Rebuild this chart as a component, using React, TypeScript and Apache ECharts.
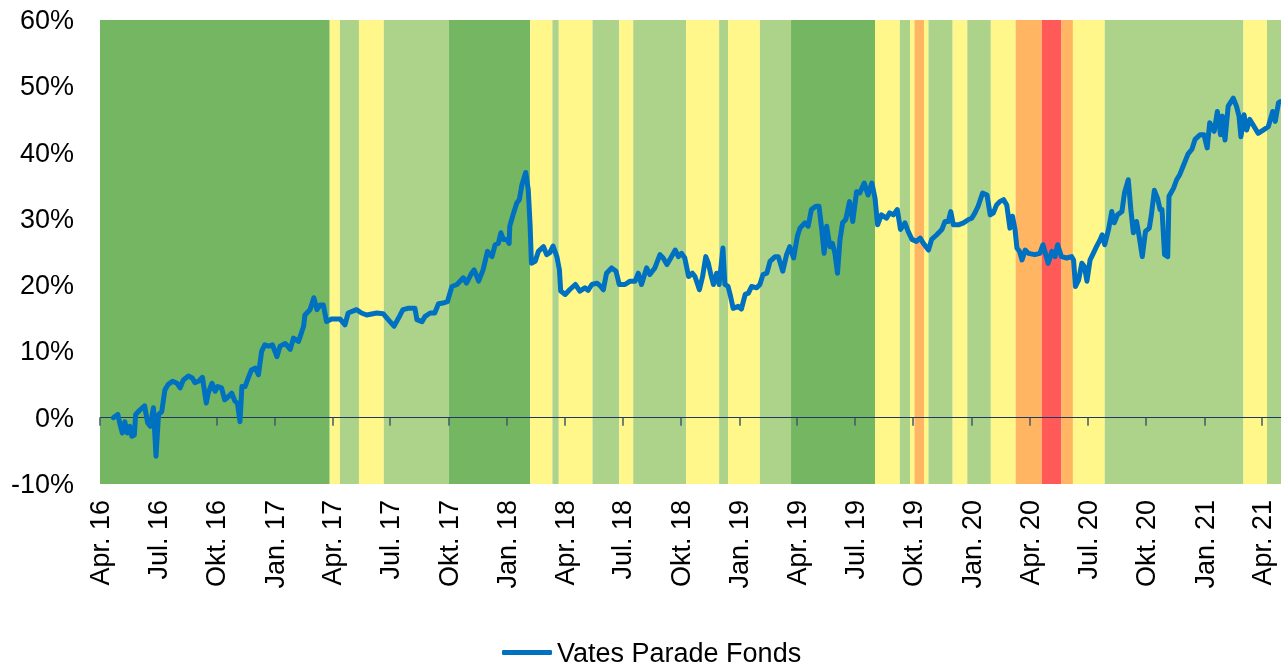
import { useEffect, useRef } from 'react';
import * as echarts from 'echarts';

const AXIS_START = '2016-04-01';
const AXIS_END = '2021-05-01';
const SERIES_NAME = 'Vates Parade Fonds';
const Y_MIN = -10;
const Y_MAX = 60;
const Y_STEP = 10;
const quarterMonthNames: Record<string, string> = { '01': 'Jan.', '04': 'Apr.', '07': 'Jul.', '10': 'Okt.' };

const fundDates = [
  '2016-04-22','2016-04-29','2016-05-02','2016-05-06','2016-05-10','2016-05-14','2016-05-18','2016-05-21','2016-05-25','2016-05-27',
  '2016-06-03','2016-06-10','2016-06-15','2016-06-19','2016-06-24','2016-06-28','2016-07-02','2016-07-07','2016-07-12','2016-07-17',
  '2016-07-24','2016-07-31','2016-08-05','2016-08-10','2016-08-18','2016-08-24','2016-08-28','2016-09-03','2016-09-09','2016-09-15',
  '2016-09-18','2016-09-24','2016-09-29','2016-10-03','2016-10-09','2016-10-14','2016-10-20','2016-10-25','2016-10-30','2016-11-03',
  '2016-11-07','2016-11-10','2016-11-15','2016-11-20','2016-11-25','2016-12-01','2016-12-06','2016-12-11','2016-12-16','2016-12-22',
  '2016-12-28','2017-01-04','2017-01-09','2017-01-17','2017-01-25','2017-01-30','2017-02-07','2017-02-15','2017-02-17','2017-02-25',
  '2017-03-03','2017-03-08','2017-03-13','2017-03-18','2017-03-23','2017-03-31','2017-04-13','2017-04-21','2017-04-26','2017-05-09',
  '2017-05-17','2017-05-25','2017-06-10','2017-06-20','2017-06-28','2017-07-07','2017-07-14','2017-07-21','2017-07-29','2017-08-09',
  '2017-08-12','2017-08-20','2017-08-25','2017-09-02','2017-09-09','2017-09-15','2017-09-22','2017-09-29','2017-10-06','2017-10-14',
  '2017-10-24','2017-10-29','2017-11-06','2017-11-10','2017-11-17','2017-11-24','2017-12-01','2017-12-08','2017-12-13','2017-12-18',
  '2017-12-22','2017-12-26','2017-12-31','2018-01-04','2018-01-05','2018-01-11','2018-01-16','2018-01-20','2018-01-24','2018-01-30',
  '2018-02-03','2018-02-06','2018-02-08','2018-02-14','2018-02-19','2018-02-27','2018-03-04','2018-03-09','2018-03-14','2018-03-20',
  '2018-03-24','2018-03-26','2018-04-02','2018-04-09','2018-04-18','2018-04-25','2018-05-03','2018-05-08','2018-05-14','2018-05-22',
  '2018-05-28','2018-06-01','2018-06-06','2018-06-14','2018-06-21','2018-06-26','2018-07-05','2018-07-13','2018-07-21','2018-07-26',
  '2018-07-31','2018-08-08','2018-08-13','2018-08-21','2018-08-29','2018-09-03','2018-09-09','2018-09-15','2018-09-22','2018-09-27',
  '2018-10-02','2018-10-07','2018-10-13','2018-10-19','2018-10-23','2018-10-30','2018-11-04','2018-11-09','2018-11-13','2018-11-17',
  '2018-11-21','2018-11-26','2018-11-30','2018-12-06','2018-12-09','2018-12-14','2018-12-18','2018-12-22','2018-12-30','2019-01-04',
  '2019-01-10','2019-01-15','2019-01-20','2019-01-28','2019-02-02','2019-02-07','2019-02-13','2019-02-18','2019-02-26','2019-03-03',
  '2019-03-10','2019-03-16','2019-03-21','2019-03-27','2019-04-02','2019-04-06','2019-04-14','2019-04-19','2019-04-24','2019-05-01',
  '2019-05-06','2019-05-10','2019-05-14','2019-05-18','2019-05-23','2019-05-27','2019-05-31','2019-06-04','2019-06-08','2019-06-12',
  '2019-06-17','2019-06-23','2019-06-28','2019-07-04','2019-07-09','2019-07-16','2019-07-22','2019-07-28','2019-08-02','2019-08-06',
  '2019-08-12','2019-08-20','2019-08-25','2019-08-31','2019-09-06','2019-09-11','2019-09-18','2019-09-23','2019-09-29','2019-10-06',
  '2019-10-12','2019-10-17','2019-10-25','2019-10-30','2019-11-07','2019-11-15','2019-11-20','2019-11-25','2019-11-29','2019-12-03',
  '2019-12-11','2019-12-19','2019-12-27','2020-01-01','2020-01-06','2020-01-11','2020-01-18','2020-01-25','2020-01-30','2020-02-04',
  '2020-02-09','2020-02-14','2020-02-20','2020-02-25','2020-03-01','2020-03-05','2020-03-09','2020-03-12','2020-03-16','2020-03-20',
  '2020-03-25','2020-03-30','2020-04-09','2020-04-17','2020-04-22','2020-04-30','2020-05-06','2020-05-11','2020-05-15','2020-05-21',
  '2020-05-29','2020-06-06','2020-06-09','2020-06-12','2020-06-17','2020-06-22','2020-06-26','2020-06-30','2020-07-05','2020-07-10',
  '2020-07-15','2020-07-21','2020-07-24','2020-07-28','2020-08-03','2020-08-08','2020-08-12','2020-08-17','2020-08-24','2020-08-28',
  '2020-09-03','2020-09-07','2020-09-11','2020-09-16','2020-09-20','2020-09-25','2020-09-30','2020-10-06','2020-10-09','2020-10-14',
  '2020-10-19','2020-10-23','2020-10-26','2020-10-30','2020-11-04','2020-11-06','2020-11-13','2020-11-18','2020-11-23','2020-11-28',
  '2020-12-06','2020-12-12','2020-12-17','2020-12-25','2020-12-31','2021-01-05','2021-01-09','2021-01-16','2021-01-21','2021-01-26',
  '2021-01-29','2021-02-02','2021-02-07','2021-02-15','2021-02-20','2021-02-24','2021-02-27','2021-03-04','2021-03-08','2021-03-13',
  '2021-03-18','2021-03-26','2021-04-03','2021-04-11','2021-04-18','2021-04-22','2021-04-27','2021-04-30',
];

const fundValues = [
  0.0, 0.5, -0.8, -2.3, -0.6, -2.3, -1.3, -2.8, -2.6, 0.5,
  1.2, 1.8, -0.8, -1.3, 1.5, -5.8, 0.5, 0.9, 4.2, 5.0,
  5.5, 5.2, 4.5, 5.7, 6.3, 6.0, 5.3, 5.5, 6.1, 2.2,
  3.7, 5.2, 4.0, 4.7, 4.5, 2.7, 3.2, 3.7, 2.5, 2.2,
  -0.6, 4.7, 4.7, 6.0, 7.2, 7.5, 6.5, 10.0, 11.0, 10.8,
  11.0, 9.2, 10.8, 11.2, 10.3, 12.0, 11.5, 13.8, 15.5, 16.3,
  18.1, 16.3, 17.0, 17.0, 14.5, 14.9, 14.9, 14.0, 15.8, 16.3,
  15.8, 15.5, 15.8, 15.7, 14.8, 13.8, 15.0, 16.3, 16.5, 16.5,
  14.8, 14.5, 15.3, 15.8, 15.8, 17.2, 17.3, 17.5, 19.8, 20.1,
  21.1, 20.3, 21.8, 22.3, 20.6, 22.3, 25.1, 24.3, 26.1, 26.3,
  27.9, 26.9, 26.9, 26.3, 28.9, 30.9, 32.4, 32.9, 35.1, 37.0,
  34.4, 28.9, 23.3, 23.6, 25.1, 25.8, 24.6, 24.9, 25.9, 24.3,
  22.3, 19.1, 18.6, 19.3, 20.1, 19.1, 19.6, 19.2, 20.1, 20.3,
  19.8, 19.3, 21.8, 22.6, 22.1, 20.1, 20.1, 20.6, 20.6, 21.8,
  20.1, 22.6, 21.6, 22.6, 24.6, 24.1, 23.1, 24.1, 25.3, 24.3,
  24.8, 24.1, 21.3, 21.8, 21.3, 19.3, 21.3, 24.3, 23.3, 21.6,
  20.1, 21.8, 20.1, 25.6, 20.1, 19.8, 18.3, 16.5, 16.8, 16.4,
  18.6, 18.8, 19.8, 19.6, 20.1, 21.6, 21.8, 23.6, 24.3, 24.3,
  22.1, 24.6, 25.8, 24.1, 27.4, 28.6, 29.4, 28.9, 31.4, 31.9,
  31.9, 28.6, 24.8, 28.9, 25.8, 26.3, 24.8, 21.8, 26.9, 29.4,
  29.9, 32.6, 29.6, 34.1, 33.9, 35.4, 33.6, 35.4, 33.1, 29.1,
  30.6, 30.1, 30.9, 30.6, 31.4, 28.4, 29.4, 28.1, 26.9, 26.6,
  27.1, 26.3, 25.3, 26.9, 27.6, 28.4, 29.6, 29.6, 31.1, 29.1,
  29.1, 29.4, 29.9, 30.1, 30.9, 31.9, 33.9, 33.6, 30.6, 30.9,
  32.1, 32.6, 32.9, 32.1, 28.6, 30.4, 28.4, 25.6, 25.1, 23.8,
  25.3, 24.8, 24.6, 24.8, 26.1, 23.3, 25.1, 24.3, 26.1, 24.3,
  24.1, 24.3, 23.8, 19.8, 20.8, 23.3, 22.8, 20.6, 23.8, 24.8,
  25.8, 26.9, 27.6, 26.1, 28.4, 31.1, 29.4, 30.6, 31.1, 33.9,
  35.9, 31.4, 27.9, 29.6, 27.4, 24.3, 28.1, 28.6, 30.4, 34.3,
  33.1, 31.4, 31.4, 24.6, 24.3, 33.4, 34.6, 35.9, 36.7, 37.9,
  39.8, 40.5, 42.0, 42.7, 42.7, 40.7, 44.5, 43.2, 46.2, 42.7,
  45.5, 41.9, 47.0, 48.2, 47.0, 45.5, 42.4, 45.7, 43.4, 45.0,
  44.2, 42.9, 43.4, 43.9, 46.2, 44.7, 47.5, 47.7,
];

// background phases: start date of each phase and its level
const bandStarts = [
  '2016-04-01','2017-03-28','2017-04-13','2017-05-13','2017-06-21','2017-10-01','2018-02-06','2018-03-13','2018-03-23','2018-05-15',
  '2018-06-26','2018-07-18','2018-10-09','2018-11-30','2018-12-14','2019-02-02','2019-03-23','2019-08-02','2019-09-10','2019-09-26',
  '2019-10-03','2019-10-18','2019-10-25','2019-12-02','2019-12-25','2020-01-31','2020-03-10','2020-04-20','2020-05-21','2020-06-08',
  '2020-07-28','2021-03-03','2021-04-09',
];
// 0 dark green, 1 light green, 2 yellow, 3 orange, 4 red
const bandLevels = [0, 2, 1, 2, 1, 0, 2, 1, 2, 1, 2, 1, 2, 1, 2, 1, 0, 2, 1, 2, 3, 2, 1, 2, 1, 2, 3, 4, 3, 2, 1, 2, 1];
const bandColors = ['#74B662', '#ADD38A', '#FFF78A', '#FFB562', '#FF5A57'];

function buildDays(start: string, end: string): string[] {
  const out: string[] = [];
  let t = Date.parse(start + 'T00:00:00Z');
  const e = Date.parse(end + 'T00:00:00Z');
  while (t <= e) {
    out.push(new Date(t).toISOString().slice(0, 10));
    t += 86400000;
  }
  return out;
}

export default function App() {
  const ref = useRef<HTMLDivElement>(null);
  useEffect(() => {
    const chart = echarts.init(ref.current!, null, { renderer: 'svg' });
    const days = buildDays(AXIS_START, AXIS_END);
    const idx = (d: string) => days.indexOf(d);
    const isQuarterStart = (_i: number, v: string) =>
      v.slice(8) === '01' && quarterMonthNames[v.slice(5, 7)] !== undefined;
    const bandData = bandStarts.map((s, i) => [
      idx(s),
      idx(i + 1 < bandStarts.length ? bandStarts[i + 1] : AXIS_END),
      bandLevels[i],
    ]);
    const lineData = fundDates.map((d, i) => [idx(d), fundValues[i]]);
    const font = '"Liberation Sans", Arial, Helvetica, sans-serif';

    chart.setOption({
      animation: false,
      textStyle: { fontFamily: font },
      grid: { left: 100, right: 0, top: 20, bottom: 182, containLabel: false, outerBoundsMode: 'none' },
      legend: {
        data: [SERIES_NAME],
        left: 497,
        top: 634,
        icon: 'roundRect',
        itemWidth: 50,
        itemHeight: 5,
        textStyle: { fontSize: 27, color: '#000', fontFamily: font },
      },
      xAxis: [
        {
          type: 'category',
          data: days,
          boundaryGap: false,
          position: 'bottom',
          axisLine: { show: false, onZero: false },
          axisTick: { show: false },
          splitLine: { show: false },
          axisLabel: {
            interval: isQuarterStart,
            rotate: 90,
            margin: 16,
            fontSize: 27,
            color: '#000',
            fontFamily: font,
            formatter: (v: string) => `${quarterMonthNames[v.slice(5, 7)]} ${v.slice(2, 4)}`,
          },
        },
        {
          type: 'category',
          data: days,
          boundaryGap: false,
          position: 'top',
          z: 2,
          axisLine: { show: true, onZero: true, lineStyle: { color: '#1F3864', width: 1 } },
          axisTick: { show: true, inside: true, length: 8, interval: isQuarterStart, lineStyle: { color: '#40596B', width: 1.5 } },
          axisLabel: { show: false },
          splitLine: { show: false },
        },
      ],
      yAxis: {
        type: 'value',
        min: Y_MIN,
        max: Y_MAX,
        interval: Y_STEP,
        axisLine: { show: false },
        axisTick: { show: false },
        splitLine: { show: false },
        axisLabel: { formatter: '{value}%', fontSize: 27, color: '#000', margin: 26, fontFamily: font },
      },
      series: [
        {
          type: 'custom',
          name: 'phases',
          z: 1,
          silent: true,
          xAxisIndex: 0,
          yAxisIndex: 0,
          encode: { x: [0, 1] },
          data: bandData,
          renderItem: (params: any, api: any) => {
            const s = api.coord([api.value(0), 0]);
            const e = api.coord([api.value(1), 0]);
            const cs = params.coordSys;
            return {
              type: 'rect',
              shape: { x: s[0], y: cs.y, width: e[0] - s[0], height: cs.height },
              style: { fill: bandColors[api.value(2)] },
            };
          },
        },
        {
          type: 'line',
          name: SERIES_NAME,
          z: 3,
          xAxisIndex: 0,
          yAxisIndex: 0,
          data: lineData,
          showSymbol: false,
          symbol: 'none',
          color: '#0070C0',
          lineStyle: { width: 5, color: '#0070C0', join: 'round', cap: 'round' },
        },
      ],
    });
    return () => chart.dispose();
  }, []);
  return <div ref={ref} style={{ position: 'fixed', left: 0, top: 0, width: 1281, height: 666 }} />;
}
